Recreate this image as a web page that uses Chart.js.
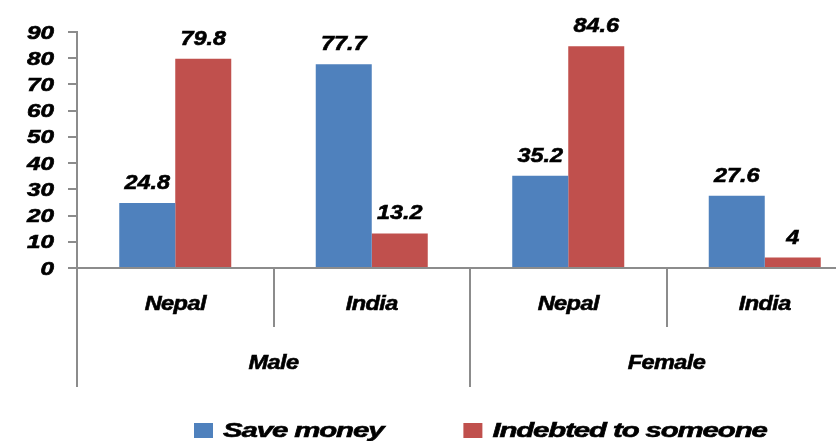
<!DOCTYPE html>
<html>
<head>
<meta charset="utf-8">
<script src="https://cdn.jsdelivr.net/npm/chart.js@4/dist/chart.umd.min.js"></script>
<style>
  html, body { margin: 0; padding: 0; background: #fff; overflow: hidden; }
  #wrap { width: 836px; height: 441px; overflow: hidden; }
</style>
</head>
<body>
<div id="wrap"><canvas id="c" width="870" height="441"></canvas></div>
<script>
// data
const countries = ['Nepal', 'India', 'Nepal', 'India'];
const genders = ['Male', 'Female'];
const saveMoney = [24.8, 77.7, 35.2, 27.6];
const indebted = [79.8, 13.2, 84.6, 4];
const yTicks = [0, 10, 20, 30, 40, 50, 60, 70, 80, 90];

const BLUE = '#4F81BD';
const RED = '#C0504D';
const AXIS = '#8c8c8c';
const FONT = '"Liberation Sans", Arial, sans-serif';

// text in the picture is wider and heavier than normal: stretch it and thicken it a little
function sText(ctx, txt, x, y, sx, align, ls) {
    ctx.save();
    ctx.translate(x, y);
    ctx.scale(sx, 1);
    ctx.textAlign = align;
    ctx.letterSpacing = (ls || 0) + 'px';
    ctx.lineWidth = 0.6;
    ctx.strokeStyle = '#000';
    ctx.fillText(txt, 0, 0);
    ctx.strokeText(txt, 0, 0);
    ctx.restore();
}

const decor = {
    id: 'decor',
    afterDatasetsDraw(chart) {
        const ctx = chart.ctx;
        const x = chart.scales.x, y = chart.scales.y;
        const area = chart.chartArea;
        const step = x.getPixelForValue(1) - x.getPixelForValue(0);
        const base = y.getPixelForValue(0);
        ctx.save();
        ctx.fillStyle = '#000';
        ctx.textBaseline = 'alphabetic';

        // y tick labels
        ctx.font = 'italic bold 18px ' + FONT;
        yTicks.forEach(v => sText(ctx, String(v), 54, y.getPixelForValue(v) + 6.5, 1.35, 'right'));

        // value labels on top of bars
        ctx.font = 'italic bold 20px ' + FONT;
        chart.data.datasets.forEach((ds, di) => {
            chart.getDatasetMeta(di).data.forEach((bar, i) => {
                sText(ctx, String(ds.data[i]), bar.x, bar.y - 14, 1.17, 'center');
            });
        });

        // x axis line and category dividers
        ctx.strokeStyle = AXIS;
        ctx.lineWidth = 2;
        ctx.beginPath();
        ctx.moveTo(area.left - 9, base);
        ctx.lineTo(chart.width, base);
        for (let i = 0; i <= countries.length; i++) {
            const px = Math.round(x.getPixelForValue(i) - step / 2);
            ctx.moveTo(px, base);
            ctx.lineTo(px, i % 2 === 0 ? base + 119 : base + 59);
        }
        ctx.stroke();

        // two level category labels
        ctx.font = 'italic bold 21px ' + FONT;
        countries.forEach((c, i) => sText(ctx, c, x.getPixelForValue(i), base + 42, 1.12, 'center', -0.5));
        genders.forEach((g, i) => {
            const cx = (x.getPixelForValue(i * 2) + x.getPixelForValue(i * 2 + 1)) / 2;
            sText(ctx, g, cx, base + 101, 1.12, 'center', -0.5);
        });

        // legend
        ctx.font = 'italic bold 21px ' + FONT;
        let lx = 194;
        chart.data.datasets.forEach(ds => {
            ctx.fillStyle = ds.backgroundColor;
            ctx.fillRect(lx, 423, 19, 15);
            ctx.fillStyle = '#000';
            ctx.letterSpacing = '-0.8px';
            const w = ctx.measureText(ds.label).width * 1.4;
            ctx.letterSpacing = '0px';
            sText(ctx, ds.label, lx + 29, 437, 1.4, 'left', -0.8);
            lx += 29 + w + 80;
        });
        ctx.restore();
    }
};

new Chart(document.getElementById('c'), {
    type: 'bar',
    data: {
        labels: countries,
        datasets: [
            { label: 'Save money', data: saveMoney, backgroundColor: BLUE },
            { label: 'Indebted to someone', data: indebted, backgroundColor: RED }
        ]
    },
    options: {
        responsive: false,
        animation: false,
        layout: { padding: { left: 0, right: 7, top: 32, bottom: 173 } },
        datasets: { bar: { categoryPercentage: 0.57, barPercentage: 1 } },
        plugins: { legend: { display: false }, tooltip: { enabled: false } },
        scales: {
            x: { display: false },
            y: {
                min: 0,
                max: 90,
                afterFit(s) { s.width = 77; },
                ticks: { stepSize: 10, display: false },
                grid: { drawOnChartArea: false, drawTicks: true, tickLength: 9, color: AXIS, lineWidth: 2 },
                border: { color: AXIS, width: 2 }
            }
        }
    },
    plugins: [decor]
});
</script>
</body>
</html>
